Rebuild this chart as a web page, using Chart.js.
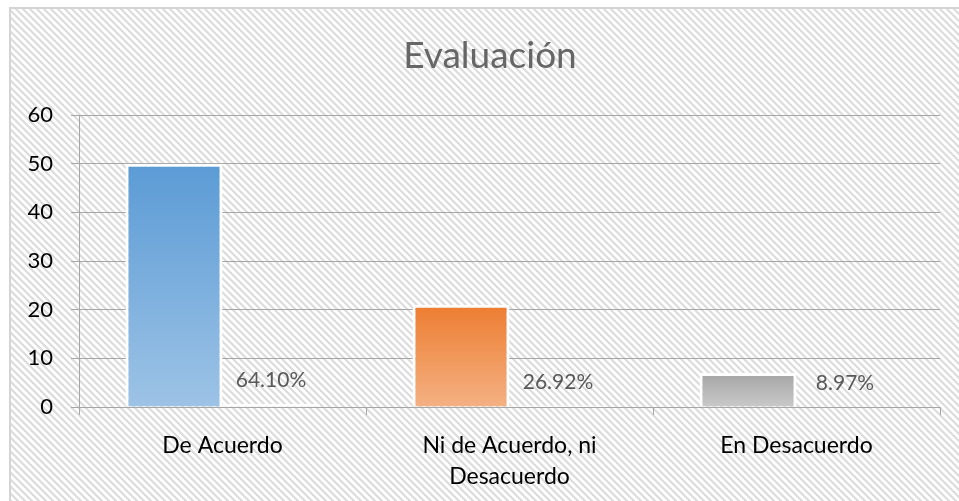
<!DOCTYPE html>
<html lang="es">
<head>
<meta charset="utf-8">
<title>Evaluación</title>
<script src="https://cdn.jsdelivr.net/npm/chart.js@4/dist/chart.umd.min.js"></script>
<style>
  html, body { margin: 0; padding: 0; background: #ffffff; }
  #grafica { display: block; }
</style>
</head>
<body>
<canvas id="grafica" width="959" height="501"></canvas>
<script>
const titulo = "Evaluación";
const categorias = [["De Acuerdo"], ["Ni de Acuerdo, ni", "Desacuerdo"], ["En Desacuerdo"]];
const frecuencias = [50, 21, 7];
const porcentajes = [0.641, 0.2692, 0.0897];
const ticksY = [0, 10, 20, 30, 40, 50, 60];

const coloresArriba = ["#5B9BD5", "#ED7D31", "#A5A5A5"];
const coloresAbajo = ["#9DC3E6", "#F4B183", "#C9C9C9"];

const fuente = "Lato, 'Open Sans', sans-serif";
const gris = "#a6a6a6";

// trama diagonal del fondo
const crearTrama = () => {
  const t = document.createElement("canvas");
  t.width = 7;
  t.height = 7;
  const c = t.getContext("2d");
  c.fillStyle = "#ffffff";
  c.fillRect(0, 0, 7, 7);
  c.strokeStyle = "#dcdcdc";
  c.lineWidth = 2.2;
  c.beginPath();
  c.moveTo(-1, -1);
  c.lineTo(8, 8);
  c.moveTo(-8, -1);
  c.lineTo(1, 8);
  c.moveTo(6, -1);
  c.lineTo(15, 8);
  c.stroke();
  return t;
};

const degradado = (ctx) => {
  const chart = ctx.chart;
  const area = chart.chartArea;
  const i = ctx.dataIndex;
  if (!area) return coloresArriba[i];
  const arriba = chart.scales.y.getPixelForValue(frecuencias[i]);
  const g = chart.ctx.createLinearGradient(0, arriba, 0, area.bottom);
  g.addColorStop(0, coloresArriba[i]);
  g.addColorStop(1, coloresAbajo[i]);
  return g;
};

const fondo = {
  id: "fondo",
  beforeDraw: (chart) => {
    const { ctx } = chart;
    ctx.save();
    ctx.fillStyle = "#ffffff";
    ctx.fillRect(0, 0, chart.width, chart.height);
    ctx.fillStyle = ctx.createPattern(crearTrama(), "repeat");
    ctx.fillRect(10, 8, chart.width, chart.height);
    ctx.strokeStyle = "#d4d4d4";
    ctx.lineWidth = 2;
    ctx.strokeRect(10, 8, chart.width + 10, chart.height + 10);
    ctx.fillStyle = "#666666";
    ctx.font = "37px " + fuente;
    ctx.textAlign = "center";
    ctx.textBaseline = "alphabetic";
    ctx.fillText(titulo, 490, 68);
    ctx.restore();
  },
};

const etiquetas = {
  id: "etiquetas",
  afterDatasetsDraw: (chart) => {
    const { ctx } = chart;
    const meta = chart.getDatasetMeta(1);
    ctx.save();
    ctx.fillStyle = "#595959";
    ctx.font = "21px " + fuente;
    ctx.textAlign = "center";
    ctx.textBaseline = "alphabetic";
    meta.data.forEach((barra, i) => {
      ctx.fillText((porcentajes[i] * 100).toFixed(2) + "%", barra.x, barra.y - 17);
    });
    ctx.restore();
  },
};

const config = {
  type: "bar",
  data: {
    labels: categorias,
    datasets: [
      {
        label: "Frecuencia",
        data: frecuencias,
        backgroundColor: degradado,
        borderColor: "#ffffff",
        borderWidth: 3,
        categoryPercentage: 0.676,
        barPercentage: 1,
      },
      {
        label: "Porcentaje",
        data: porcentajes,
        backgroundColor: "#ffffff",
        borderColor: "#ffffff",
        borderWidth: 0,
        categoryPercentage: 0.676,
        barPercentage: 1,
      },
    ],
  },
  options: {
    responsive: false,
    animation: false,
    layout: { padding: { left: 10, right: 19, top: 115, bottom: 0 } },
    plugins: {
      legend: { display: false },
      tooltip: { enabled: false },
      title: { display: false },
    },
    scales: {
      x: {
        offset: true,
        grid: { drawOnChartArea: false, color: gris, tickLength: 8, offset: true },
        border: { color: gris, width: 1 },
        ticks: {
          color: "#000000",
          padding: 15,
          font: { family: fuente, size: 23, lineHeight: 1.35 },
          maxRotation: 0,
        },
        afterFit: (s) => { s.height = 94; },
      },
      y: {
        min: 0,
        max: 60,
        grid: { color: gris, tickLength: 8 },
        border: { color: gris, width: 1 },
        afterBuildTicks: (s) => { s.ticks = ticksY.map((v) => ({ value: v })); },
        ticks: {
          color: "#000000",
          padding: 18,
          font: { family: fuente, size: 22 },
        },
        afterFit: (s) => { s.width = 69; },
      },
    },
  },
  plugins: [fondo, etiquetas],
};

const myGraph = new Chart(document.getElementById("grafica"), config);
</script>
</body>
</html>
